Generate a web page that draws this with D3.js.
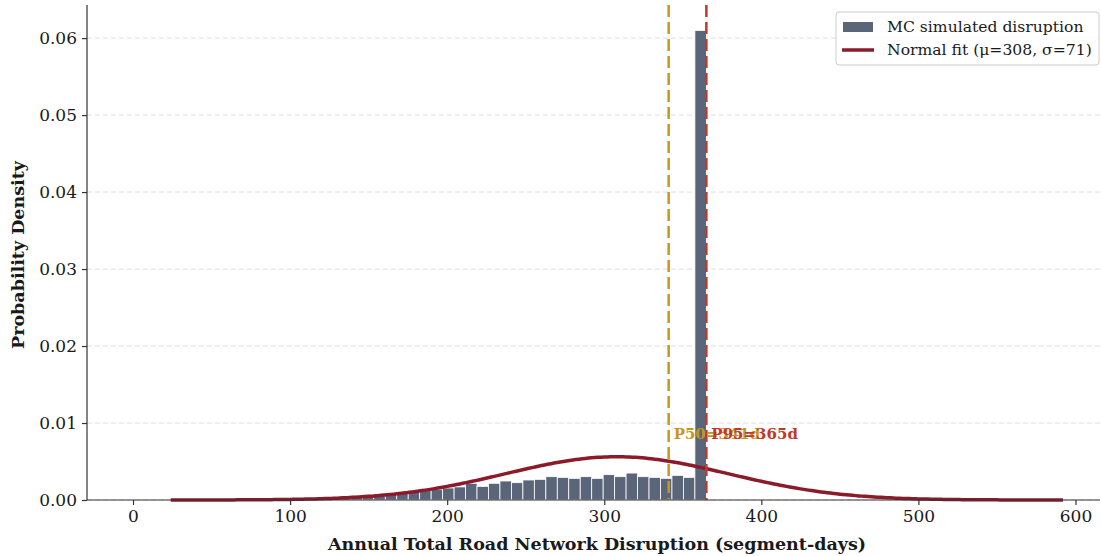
<!DOCTYPE html>
<html lang="en">
<head>
    <meta charset="UTF-8">
    <title>Annual Road Network Disruption</title>
    <script src="https://d3js.org/d3.v7.min.js"></script>
    <style>
        body { margin: 0; background: white; }
        svg { font-family: "DejaVu Serif", serif; }
        .grid line { stroke: #dddddd; stroke-dasharray: 5,3; }
        .axis path, .axis line { stroke: #333; stroke-width: 1.2px; }
        .axis text { font-size: 17px; fill: #1a1a1a; }
    </style>
</head>
<body>
<svg id="canvas" width="1101" height="556"></svg>
<script>
    // histogram bins (lower edges, width 7.3 segment-days)
    let binWidth = 7.3
    let binStarts = [0, 7.3, 14.6, 21.9, 29.2, 36.5, 43.8, 51.1, 58.4, 65.7,
        73, 80.3, 87.6, 94.9, 102.2, 109.5, 116.8, 124.1, 131.4, 138.7,
        146, 153.3, 160.6, 167.9, 175.2, 182.5, 189.8, 197.1, 204.4, 211.7,
        219, 226.3, 233.6, 240.9, 248.2, 255.5, 262.8, 270.1, 277.4, 284.7,
        292, 299.3, 306.6, 313.9, 321.2, 328.5, 335.8, 343.1, 350.4, 357.7]
    let density = [0, 0, 0, 0, 0.00002, 0.00002, 0.00003, 0.00004, 0.00004, 0.00005,
        0.00007, 0.00008, 0.0001, 0.00014, 0.00018, 0.00024, 0.0003, 0.0004, 0.0005, 0.0006,
        0.0007, 0.0008, 0.0009, 0.0011, 0.0012, 0.0013, 0.0014, 0.00156, 0.0017, 0.00217,
        0.00177, 0.00217, 0.00247, 0.00225, 0.0026, 0.00268, 0.00303, 0.00294, 0.00281, 0.00303,
        0.00281, 0.00329, 0.00303, 0.0035, 0.00303, 0.00294, 0.00281, 0.0032, 0.00294, 0.061]

    // normal fit parameters (from legend) and percentiles
    let mu = 308, sigma = 71
    let p50 = 341, p95 = 365
    let xTicks = [0, 100, 200, 300, 400, 500, 600]
    let yTicks = [0, 0.01, 0.02, 0.03, 0.04, 0.05, 0.06]

    let svg = d3.select('svg')
    let margin = {left: 87, right: 1, top: 5, bottom: 56}
    let W = 1101, H = 556

    let x = d3.scaleLinear().domain([-29.3, 615.6]).range([margin.left, W - margin.right])
    let y = d3.scaleLinear().domain([0, 0.0643]).range([H - margin.bottom, margin.top])

    // grid
    svg.append('g').attr('class', 'grid')
        .selectAll('line').data(yTicks).enter().append('line')
        .attr('x1', margin.left).attr('x2', W - margin.right)
        .attr('y1', d => y(d)).attr('y2', d => y(d))

    // bars
    let bins = binStarts.map((b, i) => ({x0: b, x1: b + binWidth, v: density[i]}))
    svg.append('g').selectAll('rect').data(bins).enter().append('rect')
        .attr('x', d => x(d.x0))
        .attr('width', d => x(d.x1) - x(d.x0))
        .attr('y', d => y(d.v))
        .attr('height', d => y(0) - y(d.v))
        .attr('fill', '#5a6579')
        .attr('stroke', 'white')
        .attr('stroke-width', 0.8)

    // normal fit curve over mu +/- 4 sigma
    let curveX = d3.range(mu - 4 * sigma, mu + 4 * sigma + 0.01, 2)
    let pdf = v => Math.exp(-0.5 * ((v - mu) / sigma) ** 2) / (sigma * Math.sqrt(2 * Math.PI))
    svg.append('path')
        .datum(curveX)
        .attr('fill', 'none')
        .attr('stroke', '#8b1a2b')
        .attr('stroke-width', 3.5)
        .attr('d', d3.line().x(d => x(d)).y(d => y(pdf(d))))

    // percentile lines
    let pLines = [
        {v: p50, label: 'P50=' + p50 + 'd', color: '#c9961a'},
        {v: p95, label: 'P95=' + p95 + 'd', color: '#c0392b'}
    ]
    svg.append('g').selectAll('line').data(pLines).enter().append('line')
        .attr('x1', d => x(d.v)).attr('x2', d => x(d.v))
        .attr('y1', margin.top).attr('y2', y(0))
        .attr('stroke', d => d.color)
        .attr('stroke-width', 2.5)
        .attr('stroke-dasharray', '12,5')
    svg.append('g').selectAll('text').data(pLines).enter().append('text')
        .attr('x', d => x(d.v) + 5)
        .attr('y', y(0.0086))
        .attr('dy', '0.35em')
        .attr('fill', d => d.color)
        .attr('font-weight', 'bold')
        .attr('font-size', 15)
        .text(d => d.label)

    // axes
    let xAxis = svg.append('g').attr('class', 'axis')
        .attr('transform', 'translate(0,' + y(0) + ')')
        .call(d3.axisBottom(x).tickValues(xTicks).tickSize(5).tickPadding(5).tickSizeOuter(0))
    let yAxis = svg.append('g').attr('class', 'axis')
        .attr('transform', 'translate(' + margin.left + ',0)')
        .call(d3.axisLeft(y).tickValues(yTicks).tickFormat(d3.format('.2f')).tickSize(5).tickPadding(5).tickSizeOuter(0))
    xAxis.select('.domain').attr('d', 'M' + margin.left + ',0H' + (W - margin.right))
    yAxis.select('.domain').attr('d', 'M0,' + margin.top + 'V' + y(0))
    svg.selectAll('.axis text').attr('font-family', '"DejaVu Serif", serif')

    svg.append('text')
        .attr('x', 597)
        .attr('y', 550)
        .attr('text-anchor', 'middle')
        .attr('font-weight', 'bold')
        .attr('font-size', 17.5)
        .attr('fill', '#1a1a1a')
        .text('Annual Total Road Network Disruption (segment-days)')
    svg.append('text')
        .attr('transform', 'translate(24,' + 255 + ') rotate(-90)')
        .attr('text-anchor', 'middle')
        .attr('font-weight', 'bold')
        .attr('font-size', 17.5)
        .attr('fill', '#1a1a1a')
        .text('Probability Density')

    // legend
    let lg = svg.append('g').attr('transform', 'translate(836,12)')
    lg.append('rect').attr('width', 263).attr('height', 53).attr('rx', 3)
        .attr('fill', 'white').attr('fill-opacity', 0.85).attr('stroke', '#cccccc')
    lg.append('rect').attr('x', 7).attr('y', 10).attr('width', 30).attr('height', 10).attr('fill', '#5a6579')
    lg.append('line').attr('x1', 6).attr('x2', 38).attr('y1', 38).attr('y2', 38)
        .attr('stroke', '#8b1a2b').attr('stroke-width', 3.5)
    lg.append('text').attr('x', 51).attr('y', 15).attr('dy', '0.35em').attr('font-size', 15.6).attr('fill', '#1a1a1a')
        .text('MC simulated disruption')
    lg.append('text').attr('x', 51).attr('y', 38).attr('dy', '0.35em').attr('font-size', 15.6).attr('fill', '#1a1a1a')
        .text('Normal fit (μ=' + mu + ', σ=' + sigma + ')')
</script>
</body>
</html>
